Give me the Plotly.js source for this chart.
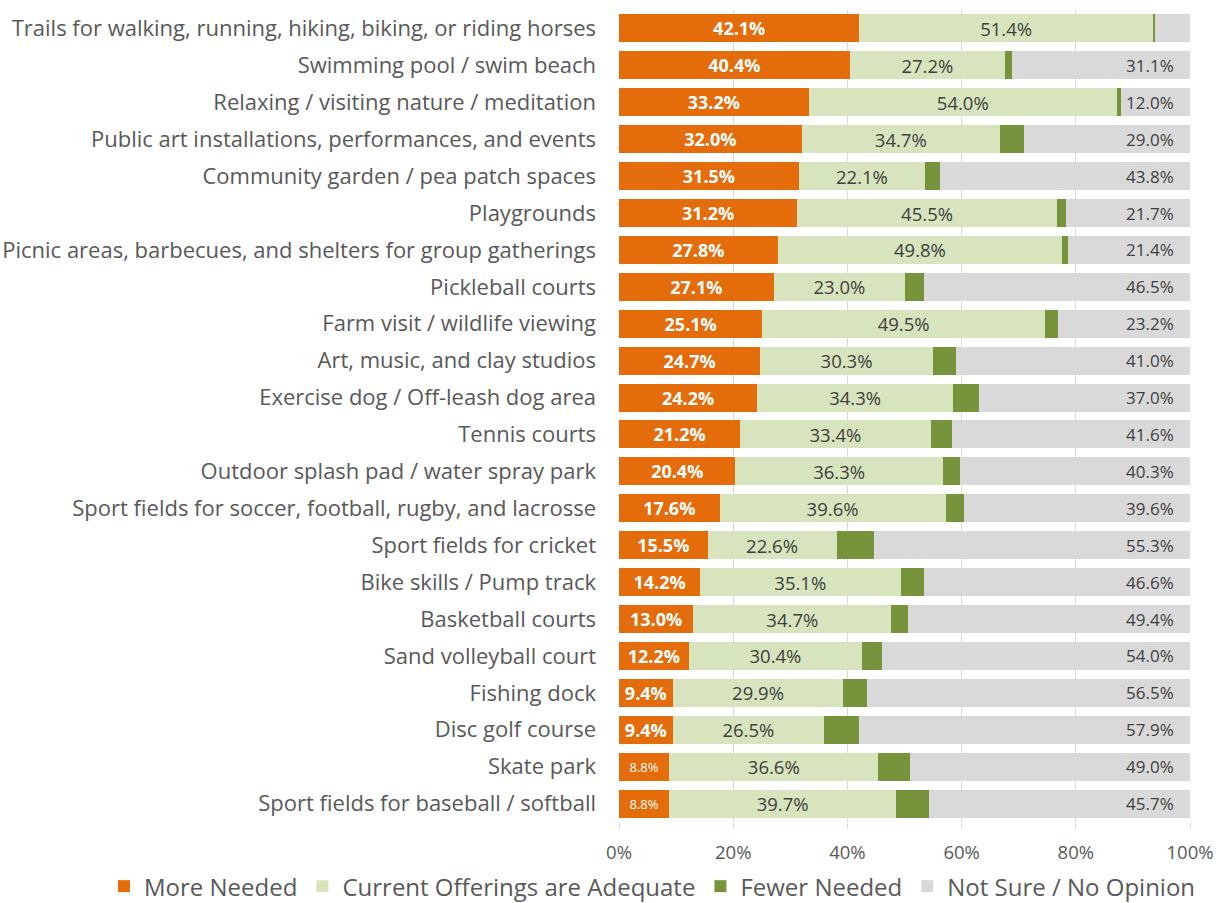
<!DOCTYPE html>
<html>
<head>
<meta charset="utf-8">
<script src="https://cdn.plot.ly/plotly-3.0.1.min.js"></script>
<style>html,body{margin:0;padding:0;background:#fff;}#chart{width:1226px;height:903px;}</style>
</head>
<body>
<div id="chart"></div>
<script>
const categories = [
  "Trails for walking, running, hiking, biking, or riding horses",
  "Swimming pool / swim beach",
  "Relaxing / visiting nature / meditation",
  "Public art installations, performances, and events",
  "Community garden / pea patch spaces",
  "Playgrounds",
  "Picnic areas, barbecues, and shelters for group gatherings",
  "Pickleball courts",
  "Farm visit / wildlife viewing",
  "Art, music, and clay studios",
  "Exercise dog / Off-leash dog area",
  "Tennis courts",
  "Outdoor splash pad / water spray park",
  "Sport fields for soccer, football, rugby, and lacrosse",
  "Sport fields for cricket",
  "Bike skills / Pump track",
  "Basketball courts",
  "Sand volleyball court",
  "Fishing dock",
  "Disc golf course",
  "Skate park",
  "Sport fields for baseball / softball"
];
const moreNeeded = [42.1,40.4,33.2,32.0,31.5,31.2,27.8,27.1,25.1,24.7,24.2,21.2,20.4,17.6,15.5,14.2,13.0,12.2,9.4,9.4,8.8,8.8];
const adequate   = [51.4,27.2,54.0,34.7,22.1,45.5,49.8,23.0,49.5,30.3,34.3,33.4,36.3,39.6,22.6,35.1,34.7,30.4,29.9,26.5,36.6,39.7];
const fewer      = [0.4,1.3,0.8,4.3,2.6,1.6,1.0,3.4,2.2,4.0,4.5,3.8,3.0,3.2,6.6,4.1,2.9,3.4,4.2,6.2,5.6,5.8];
const notSure    = [6.1,31.1,12.0,29.0,43.8,21.7,21.4,46.5,23.2,41.0,37.0,41.6,40.3,39.6,55.3,46.6,49.4,54.0,56.5,57.9,49.0,45.7];
const seriesNames = ["More Needed","Current Offerings are Adequate","Fewer Needed","Not Sure / No Opinion"];
const colors = ["#E46C0A","#D7E4BD","#77933C","#D9D9D9"];

const FONT = "'Open Sans', Lato, sans-serif";
const pct = v => v.toFixed(1) + "%";
const PAD = "\u00A0\u00A0\u00A0";

const traces = [
  {
    name: seriesNames[0], x: moreNeeded,
    text: moreNeeded.map(v => v >= 9 ? "<b>" + pct(v) + "</b>" : pct(v)),
    textfont: {color: "#ffffff", size: moreNeeded.map(v => v >= 9 ? 18 : 13), family: FONT},
    insidetextanchor: "middle", marker: {color: colors[0]}
  },
  {
    name: seriesNames[1], x: adequate,
    text: adequate.map(pct),
    textfont: {color: "#404040", size: 18.5, family: FONT},
    insidetextanchor: "middle", marker: {color: colors[1]}
  },
  {
    name: seriesNames[2], x: fewer,
    text: fewer.map(() => ""),
    marker: {color: colors[2]}
  },
  {
    name: seriesNames[3], x: notSure,
    text: notSure.map(v => v >= 10 ? pct(v) + PAD : ""),
    textfont: {color: "#404040", size: 17, family: FONT},
    insidetextanchor: "end", marker: {color: colors[3]}
  }
].map(t => Object.assign({
  type: "bar", orientation: "h", y: categories,
  textposition: "inside", constraintext: "none", textangle: 0,
  hoverinfo: "name+x", cliponaxis: false
}, t));

const layout = {
  width: 1226, height: 903,
  barmode: "stack", bargap: 0.24,
  margin: {l: 619, r: 36, t: 10, b: 81, autoexpand: false},
  paper_bgcolor: "#ffffff", plot_bgcolor: "#ffffff",
  font: {family: FONT, color: "#595959"},
  showlegend: true,
  legend: {
    orientation: "h", x: (104 - 619) / 571, xref: "paper", xanchor: "left",
    y: -0.0795, yref: "paper", yanchor: "middle",
    font: {size: 24, color: "#595959", family: FONT},
    traceorder: "normal", itemwidth: 30, tracegroupgap: 0
  },
  xaxis: {
    range: [0, 100], dtick: 20, ticksuffix: "%",
    showgrid: true, gridcolor: "#D9D9D9", gridwidth: 1,
    zeroline: false, showline: false,
    ticks: "outside", ticklen: 6, tickcolor: "#D9D9D9",
    ticklabelstandoff: 8,
    tickfont: {size: 18.5, color: "#595959", family: FONT}, fixedrange: true
  },
  yaxis: {
    autorange: "reversed", type: "category",
    showgrid: false, zeroline: false, showline: false, ticks: "",
    ticklabelstandoff: 22,
    tickfont: {size: 22, color: "#595959", family: FONT}, fixedrange: true
  }
};

Plotly.newPlot("chart", traces, layout, {displayModeBar: false, staticPlot: true});
</script>
</body>
</html>
